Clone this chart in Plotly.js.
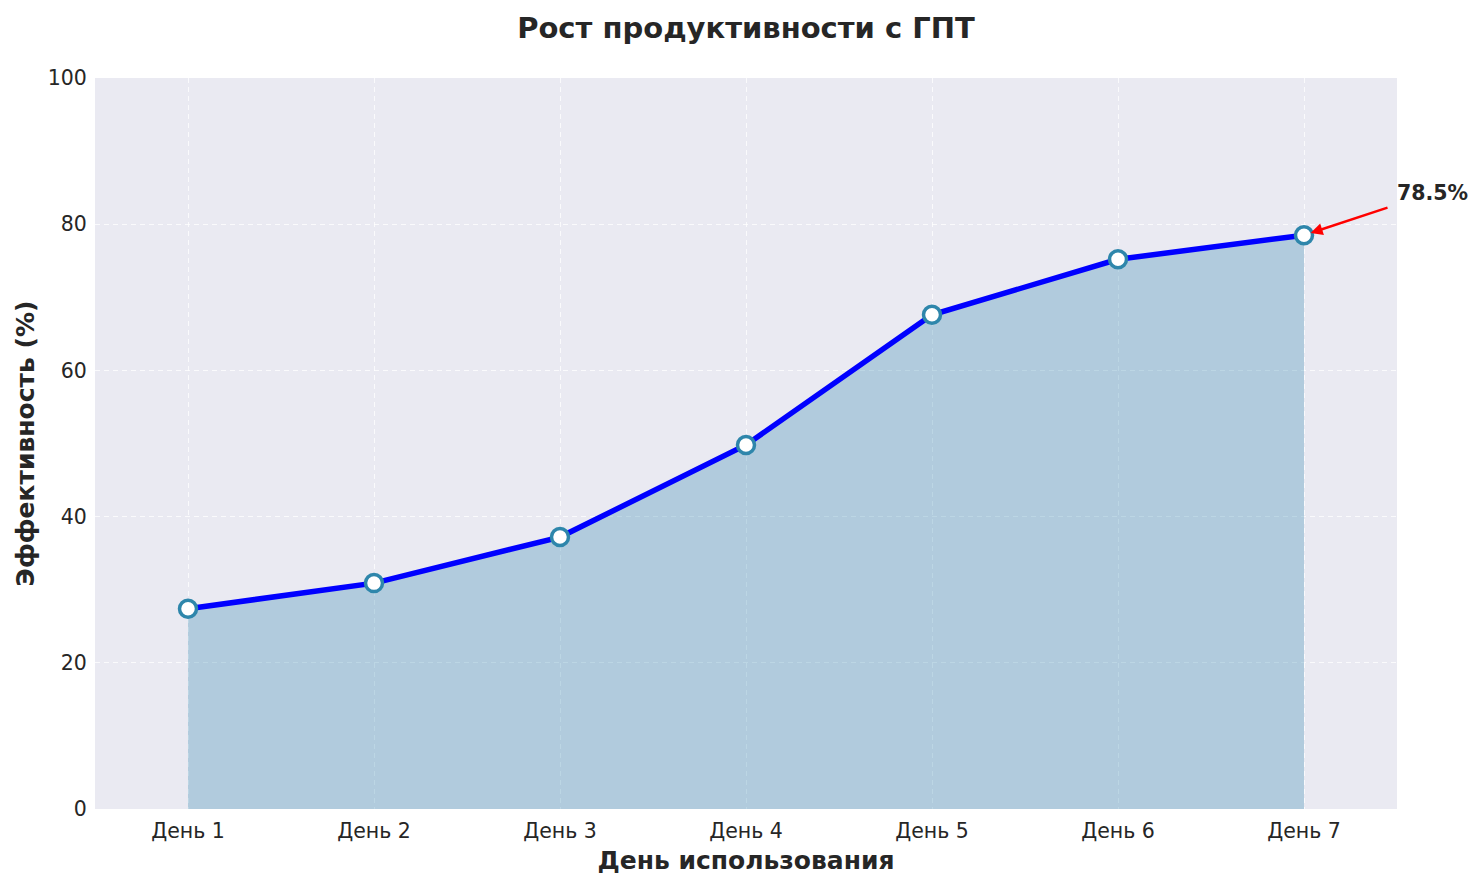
<!DOCTYPE html>
<html><head><meta charset="utf-8">
<script src="https://cdn.plot.ly/plotly-3.0.1.min.js"></script>
<style>body{margin:0;background:#fff}#c{width:1484px;height:884px}</style>
</head><body><div id="c"></div>
<script>
const days = ["День 1","День 2","День 3","День 4","День 5","День 6","День 7"];
const efficiency = [27.4, 30.9, 37.2, 49.8, 67.6, 75.2, 78.5];
const yTicks = [0, 20, 40, 60, 80, 100];
const lastLabel = "78.5%";

const font = "DejaVu Sans, sans-serif";
const grid = "rgba(255,255,255,0.75)";
const traces = [
  {x: days, y: efficiency, type: "scatter", mode: "lines", fill: "tozeroy",
   fillcolor: "rgba(46,134,171,0.3)", line: {color: "rgba(46,134,171,0.45)", width: 1.5},
   hoverinfo: "skip", showlegend: false},
  {x: days, y: efficiency, type: "scatter", mode: "lines+markers",
   line: {color: "#0000ff", width: 5.5},
   marker: {size: 17, color: "#ffffff", line: {color: "#2E86AB", width: 3.5}},
   showlegend: false}
];
const layout = {
  width: 1484, height: 884,
  margin: {l: 95, r: 87, t: 78, b: 75},
  paper_bgcolor: "#ffffff", plot_bgcolor: "#EAEAF2",
  font: {family: font, color: "#262626"},
  title: {text: "<b>Рост продуктивности с ГПТ</b>", x: 0.5027, xanchor: "center", y: 0.968, yanchor: "middle",
          font: {size: 29, family: font, color: "#262626"}},
  xaxis: {type: "category", range: [-0.5, 6.5], showgrid: true, gridcolor: grid,
          griddash: "5px,4px", gridwidth: 1, zeroline: false, showline: false,
          ticks: "outside", ticklen: 3, tickcolor: "rgba(0,0,0,0)",
          tickfont: {size: 20.5, family: font, color: "#262626"},
          title: {text: "<b>День использования</b>", font: {size: 25, family: font, color: "#262626"}, standoff: 9}},
  yaxis: {range: [0, 100], tickvals: yTicks, showgrid: true, gridcolor: grid,
          griddash: "5px,4px", gridwidth: 1, zeroline: false, showline: false,
          ticks: "outside", ticklen: 3, tickcolor: "rgba(0,0,0,0)",
          tickfont: {size: 20.5, family: font, color: "#262626"},
          title: {text: "<b>Эффективность (%)</b>", font: {size: 25, family: font, color: "#262626"}, standoff: 6}},
  annotations: [
    {x: days[6], y: efficiency[6], xref: "x", yref: "y",
     text: " ", font: {size: 1}, showarrow: true, arrowhead: 2, arrowsize: 1, arrowwidth: 2.4,
     arrowcolor: "#ff0000", ax: 85, ay: -28, standoff: 7},
    {x: days[6], y: efficiency[6], xref: "x", yref: "y",
     text: "<b>" + lastLabel + "</b>", showarrow: false, xanchor: "left", yanchor: "middle",
     xshift: 91, yshift: 42, font: {size: 20.5, family: font, color: "#262626"}}
  ]
};
Plotly.newPlot("c", traces, layout, {displayModeBar: false});
</script>
</body></html>
